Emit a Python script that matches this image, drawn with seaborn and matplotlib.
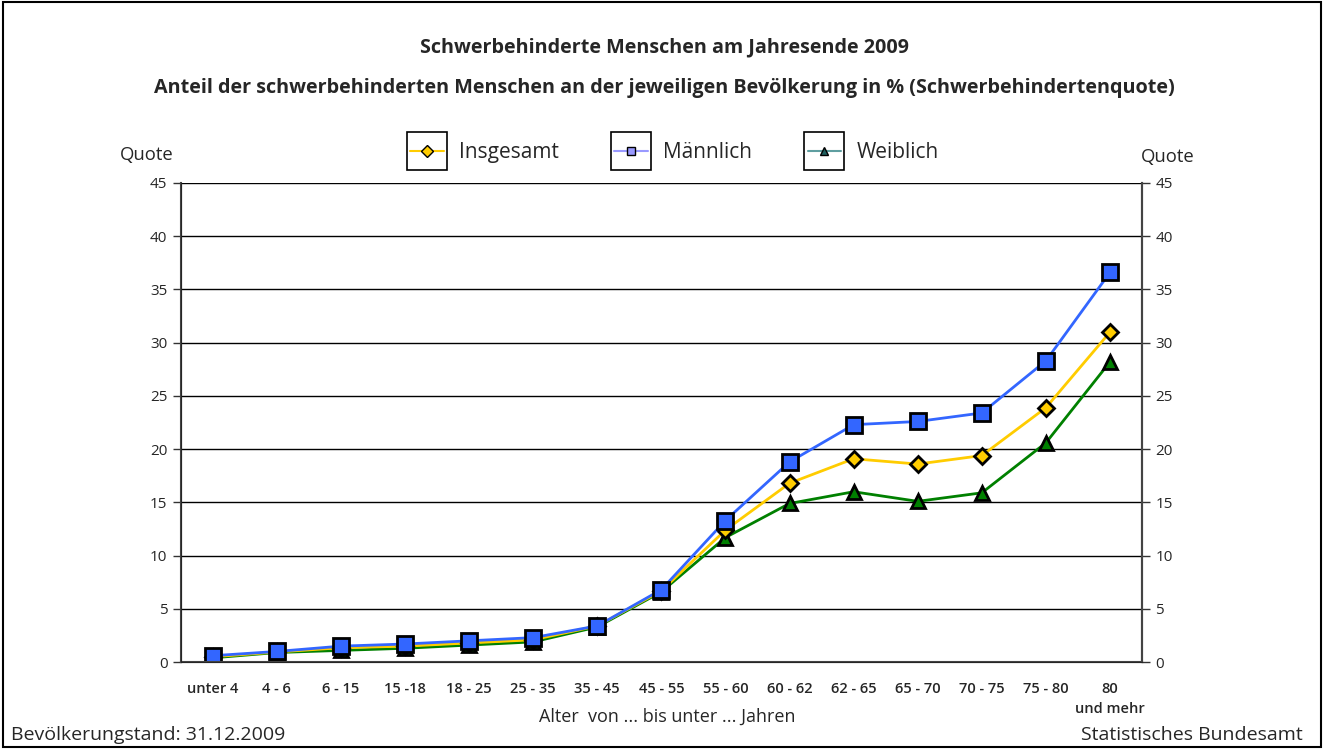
import matplotlib
matplotlib.use("Agg")
import matplotlib.pyplot as plt
import matplotlib.patches as mpatches
from matplotlib.lines import Line2D
import numpy as np
import pandas as pd
import seaborn as sns

# data
age_groups = ["unter 4", "4 - 6", "6 - 15", "15 -18", "18 - 25", "25 - 35", "35 - 45",
              "45 - 55", "55 - 60", "60 - 62", "62 - 65", "65 - 70", "70 - 75", "75 - 80",
              "80\nund mehr"]
insgesamt = [0.5, 0.95, 1.35, 1.5, 1.8, 2.1, 3.4, 6.7, 12.4, 16.8, 19.1, 18.6, 19.4, 23.9, 31.0]
maennlich = [0.6, 1.0, 1.5, 1.7, 2.0, 2.3, 3.4, 6.8, 13.3, 18.8, 22.3, 22.6, 23.4, 28.3, 36.6]
weiblich = [0.4, 0.9, 1.1, 1.3, 1.6, 1.9, 3.3, 6.6, 11.7, 14.9, 16.0, 15.1, 15.9, 20.6, 28.2]
y_ticks = [0, 5, 10, 15, 20, 25, 30, 35, 40, 45]

sns.set_style("white")
plt.rcParams["font.family"] = ["Open Sans", "DejaVu Sans"]

fig = plt.figure(figsize=(13.28, 7.49), dpi=100)
ax = fig.add_axes([0.136, 0.116, 0.724, 0.6397])

x = np.arange(len(age_groups))
series = [("Insgesamt", insgesamt, "#FFCC00", "D", 8),
          ("Männlich", maennlich, "#3366FF", "s", 11),
          ("Weiblich", weiblich, "#008000", "^", 10)]
# draw back to front so Männlich squares sit on top
for name, vals, col, mk, ms in [series[2], series[0], series[1]]:
    sns.lineplot(x=x, y=vals, ax=ax, color=col, marker=mk, markersize=ms,
                 markeredgecolor="black", markeredgewidth=2, linewidth=2, legend=False)

ax.set_xlim(-0.5, len(age_groups) - 0.5)
ax.set_ylim(0, 45)
ax.set_yticks(y_ticks)
ax.yaxis.grid(True, color="black", linewidth=1)
ax.set_xticks(x)
ax.set_xticklabels(age_groups, fontsize=10.5, fontweight="semibold")
ax.set_xticks(np.arange(-0.5, len(age_groups)), minor=True)
ax.tick_params(axis="x", which="major", length=0, pad=14)
ax.tick_params(axis="x", which="minor", length=6, width=1, color="#333333", direction="out")
ax.tick_params(axis="y", length=6, width=1, color="#333333", direction="out", labelsize=11, left=True)
for lbl in ax.get_xticklabels():
    if "mehr" in lbl.get_text():
        lbl.set_linespacing(1.6)
        lbl.set_va("top")
ax.spines["top"].set_visible(False)
for s in ["left", "right", "bottom"]:
    ax.spines[s].set_color("#444444")
    ax.spines[s].set_linewidth(1.5)
ax.set_xlabel("Alter  von ... bis unter ... Jahren", fontsize=13)
ax.xaxis.set_label_coords(0.506, -0.095)
ax.set_ylabel("")

ax2 = ax.twinx()
ax2.set_ylim(0, 45)
ax2.set_yticks(y_ticks)
ax2.tick_params(axis="y", length=6, width=1, color="#333333", direction="out", labelsize=11, right=True)
ax2.spines["top"].set_visible(False)
ax2.spines["right"].set_color("#444444")
ax2.spines["right"].set_linewidth(1.5)

fig.text(0.090, 0.793, "Quote", fontsize=13.3, ha="left", va="center")
fig.text(0.859, 0.790, "Quote", fontsize=13.3, ha="left", va="center")

fig.text(0.5, 0.937, "Schwerbehinderte Menschen am Jahresende 2009", fontsize=14.2,
         fontweight="bold", ha="center", va="center")
fig.text(0.5, 0.882, "Anteil der schwerbehinderten Menschen an der jeweiligen Bevölkerung in % (Schwerbehindertenquote)",
         fontsize=14.2, fontweight="bold", ha="center", va="center")

handles = [Line2D([], [], color="#FFCC00", marker="D", markersize=6, markerfacecolor="#FFCC00",
                  markeredgecolor="black", lw=1.5),
           Line2D([], [], color="#9999FF", marker="s", markersize=6, markerfacecolor="#9999FF",
                  markeredgecolor="black", lw=1.5),
           Line2D([], [], color="#5F9EA0", marker="^", markersize=6, markerfacecolor="#1F5F5F",
                  markeredgecolor="black", lw=1.5)]
leg = fig.legend(handles, ["Insgesamt", "Männlich", "Weiblich"], loc="center",
                 bbox_to_anchor=(0.508, 0.796), ncol=3, frameon=False, fontsize=15,
                 handlelength=1.6, columnspacing=2.65, handletextpad=0.75)

fig.canvas.draw()
renderer = fig.canvas.get_renderer()
for h in leg.legend_handles:
    bb = h.get_window_extent(renderer)
    cx, cy = (bb.x0 + bb.x1) / 2, (bb.y0 + bb.y1) / 2
    w, hgt = 40, 38
    x0, y0 = fig.transFigure.inverted().transform((cx - w / 2, cy - hgt / 2))
    x1, y1 = fig.transFigure.inverted().transform((cx + w / 2, cy + hgt / 2))
    fig.add_artist(mpatches.Rectangle((x0, y0), x1 - x0, y1 - y0, transform=fig.transFigure,
                                      fill=False, edgecolor="black", linewidth=1.2))

fig.text(0.008, 0.012, "Bevölkerungstand: 31.12.2009", fontsize=14, ha="left")
fig.text(0.981, 0.012, "Statistisches Bundesamt", fontsize=14, ha="right")

fig.add_artist(mpatches.Rectangle((0.002, 0.003), 0.993, 0.994, transform=fig.transFigure,
                                  fill=False, edgecolor="black", linewidth=1.5))

fig.savefig("out.png", dpi=100)
